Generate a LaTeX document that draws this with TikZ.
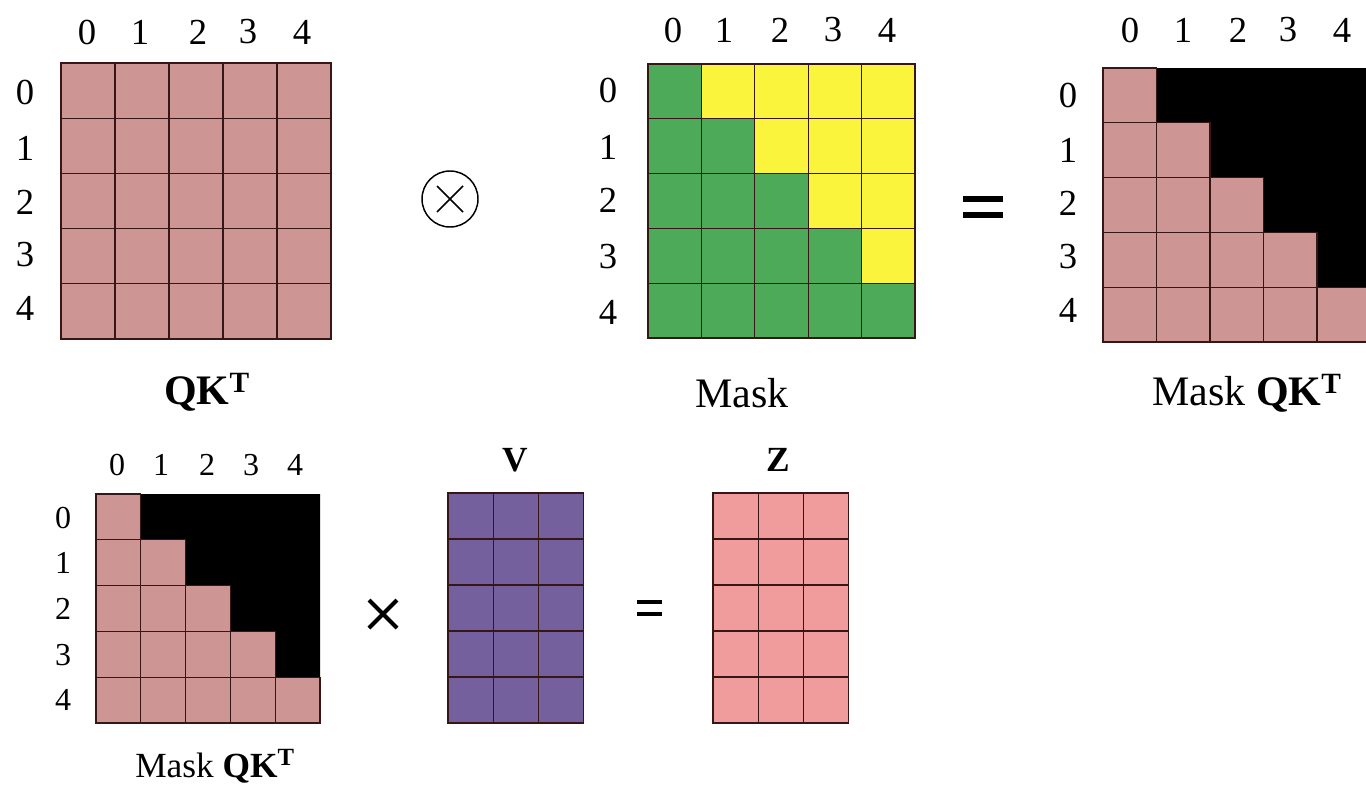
\documentclass[tikz,border=0pt]{standalone}
\usepackage{fontspec}
\setmainfont{Liberation Serif}
\definecolor{pinkc}{RGB}{205,150,148}
\definecolor{greenc}{RGB}{76,170,88}
\definecolor{yellowc}{RGB}{250,245,60}
\definecolor{purplec}{RGB}{117,96,158}
\definecolor{zpink}{RGB}{240,156,156}
\definecolor{gridc}{RGB}{55,22,22}
\tikzset{
  cell/.style={draw=gridc,line width=0.85pt},
  biglbl/.style={inner sep=0pt,font=\fontsize{27.5}{30}\selectfont},
  bigcap/.style={inner sep=0pt,font=\fontsize{31.5}{34}\selectfont},
  smalllbl/.style={inner sep=0pt,font=\fontsize{24}{27}\selectfont},
  smallcap/.style={inner sep=0pt,font=\fontsize{26.5}{29}\selectfont},
  opbar/.style={line width=3.6pt,black},
  opcross/.style={line width=3pt,black},
}
% full grid: x0,y0,w,h,cols,rows,fill
\newcommand\mygrid[7]{%
  \foreach \i in {1,...,#5}{\foreach \j in {1,...,#6}{%
    \draw[cell,fill=#7] ({#1+(\i-1)*#3},{#2+(\j-1)*#4}) rectangle ++(#3,#4);}}}
% masked 5x5: x0,y0,w,h
\newcommand\mymasked[4]{%
  \fill[black] ({#1+#3},#2) -- ({#1+5*#3},#2) -- ({#1+5*#3},{#2+4*#4})
    -- ({#1+4*#3},{#2+4*#4}) -- ({#1+4*#3},{#2+3*#4}) -- ({#1+3*#3},{#2+3*#4})
    -- ({#1+3*#3},{#2+2*#4}) -- ({#1+2*#3},{#2+2*#4}) -- ({#1+2*#3},{#2+#4})
    -- ({#1+#3},{#2+#4}) -- cycle;
  \foreach \j in {1,...,5}{\foreach \i in {1,...,\j}{%
    \draw[cell,fill=pinkc] ({#1+(\i-1)*#3},{#2+(\j-1)*#4}) rectangle ++(#3,#4);}}}
\begin{document}
\begin{tikzpicture}[x=0.75pt,y=-0.75pt]
\useasboundingbox (0,0) rectangle (1366,785);
% ---------- matrix 1: QK^T ----------
\mygrid{61}{63}{54}{55.2}{5}{5}{pinkc}
\foreach \k/\x in {0/87,1/140,2/198,3/248,4/302}
  \node[biglbl] (ac\k) at (\x,32) {\k};
\foreach \k/\y in {0/92,1/148,2/202,3/255,4/308}
  \node[biglbl] (ar\k) at (25,\y) {\k};
\node[bigcap] (alab) at (207,392) {\textbf{QK\textsuperscript{T}}};
% ---------- otimes ----------
\node[circle,draw,line width=1.1pt,minimum size=42pt,inner sep=0pt] (otimes) at (450,199) {};
\draw[line width=1.1pt] (437,186) -- (463,212);
\draw[line width=1.1pt] (437,212) -- (463,186);
% ---------- matrix 2: Mask ----------
\foreach \j in {1,...,5}{\foreach \i in {1,...,5}{%
  \pgfmathsetmacro\cc{\i<=\j ? 1 : 0}%
  \ifdim\cc pt>0.5pt
    \draw[cell,fill=greenc] ({648+(\i-1)*53.4},{64+(\j-1)*54.8}) rectangle ++(53.4,54.8);
  \else
    \draw[cell,fill=yellowc] ({648+(\i-1)*53.4},{64+(\j-1)*54.8}) rectangle ++(53.4,54.8);
  \fi}}
\foreach \k/\x in {0/673,1/724,2/780,3/833,4/887}
  \node[biglbl] (bc\k) at (\x,30) {\k};
\foreach \k/\y in {0/90,1/147,2/200,3/257,4/312}
  \node[biglbl] (br\k) at (608,\y) {\k};
\node[bigcap] (blab) at (742,393) {Mask};
% ---------- equals top ----------
\coordinate (eqtop) at (983,207);
\draw[opbar,line width=3.8pt] (963,199) -- (1003,199);
\draw[opbar,line width=3.8pt] (963,215) -- (1003,215);
% ---------- matrix 3: Mask QK^T ----------
\mymasked{1103}{68}{53.5}{54.8}
\foreach \k/\x in {0/1130,1/1183,2/1238,3/1288,4/1342}
  \node[biglbl] (cc\k) at (\x,30) {\k};
\foreach \k/\y in {0/95,1/150,2/203,3/257,4/310}
  \node[biglbl] (cr\k) at (1068,\y) {\k};
\node[bigcap] (clab) at (1247,393) {Mask \textbf{QK\textsuperscript{T}}};
% ---------- matrix 4: bottom Mask QK^T ----------
\mymasked{96}{494}{44.8}{45.8}
\foreach \k/\x in {0/117,1/161,2/207,3/251,4/295}
  \node[smalllbl] (dc\k) at (\x,465) {\k};
\foreach \k/\y in {0/518,1/563,2/609,3/655,4/700}
  \node[smalllbl] (dr\k) at (63,\y) {\k};
\node[smallcap] (dlab) at (215,766) {Mask \textbf{QK\textsuperscript{T}}};
% ---------- times ----------
\coordinate (times) at (383,614);
\draw[opcross] (369,600) -- (397,628);
\draw[opcross] (369,628) -- (397,600);
% ---------- V ----------
\mygrid{448}{493}{45.3}{46}{3}{5}{purplec}
\node[smallcap] (vlab) at (515,460) {\textbf{V}};
% ---------- equals bottom ----------
\coordinate (eqbot) at (649,608);
\draw[opbar,line width=3pt] (637,602) -- (662,602);
\draw[opbar,line width=3pt] (637,614) -- (662,614);
% ---------- Z ----------
\mygrid{713}{493}{45.3}{46}{3}{5}{zpink}
\node[smallcap] (zlab) at (778,460) {\textbf{Z}};
\end{tikzpicture}
\end{document}
